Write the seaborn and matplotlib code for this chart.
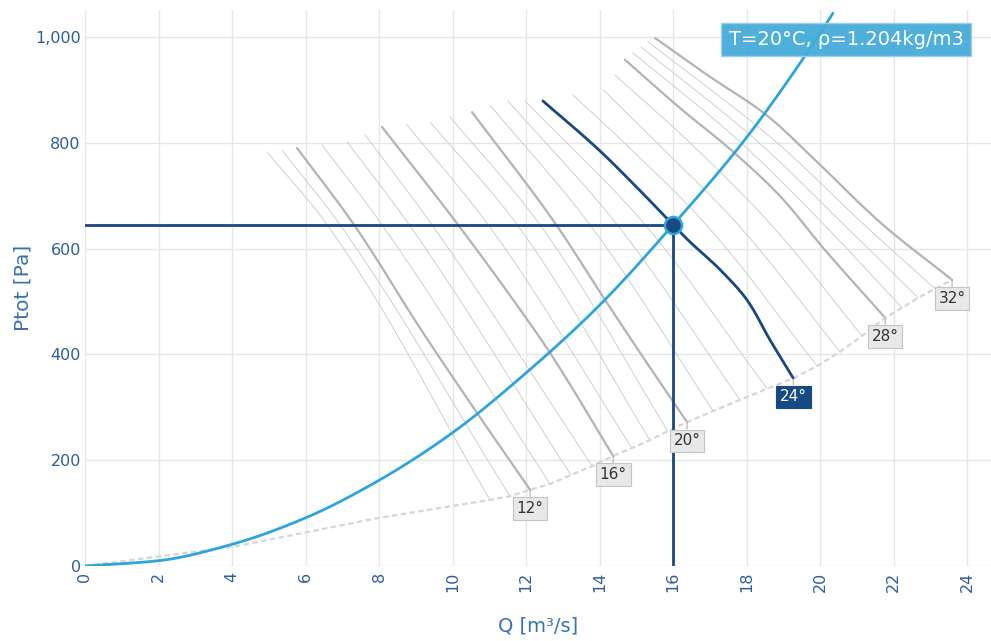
import numpy as np
import pandas as pd
import matplotlib
matplotlib.use("Agg")
import matplotlib.pyplot as plt
from matplotlib.ticker import FuncFormatter
import seaborn as sns

# ---------------------------------------------------------------
# Fan data: airflow Q [m³/s] and total pressure Ptot [Pa]
# ---------------------------------------------------------------
angles = list(range(10, 33))
major_angles = [12, 16, 20, 24, 28, 32]
duty_angle = 24

# upper (stall-side) end of each blade-angle curve
top_q = [4.95, 5.36, 5.77, 6.45, 7.13, 7.62, 8.08, 8.76, 9.39, 9.93, 10.53, 11.02,
         11.51, 11.97, 12.46, 13.28, 14.10, 14.42, 14.69, 14.91, 15.13, 15.32, 15.51]
top_p = [783, 786, 790, 796, 802, 815, 830, 834, 839, 849, 858, 871,
         879, 879, 879, 890, 900, 928, 957, 970, 981, 991, 998]

# lower (free-delivery) end of each blade-angle curve
bottom_q = [11.02, 11.56, 12.11, 12.65, 13.22, 13.80, 14.37, 14.88, 15.37, 15.86, 16.38, 17.09,
            17.82, 18.56, 19.27, 19.92, 20.54, 21.14, 21.77, 22.23, 22.67, 23.13, 23.59]
bottom_p = [125, 132, 144, 155, 172, 189, 208, 223, 238, 255, 272, 293,
            314, 335, 355, 378, 405, 435, 469, 488, 507, 524, 541]

# flow where each curve passes Ptot = 645 Pa
mid_q = [6.59, 6.94, 7.32, 8.08, 8.82, 9.44, 10.15, 10.97, 11.76, 12.38, 12.82, 13.74,
         14.48, 15.24, 16.00, 16.90, 17.77, 18.67, 19.56, 20.11, 20.65, 21.20, 21.71]
mid_p = [645] * len(angles)

# flow where the steeper minor curves pass Ptot = 800 Pa
upper_angles = [25, 26, 27, 29, 30, 31]
upper_q = [14.67, 15.56, 16.46, 17.85, 18.34, 18.83]
upper_p = [800, 800, 800, 800, 800, 800]

# intermediate points of the labelled curves
inner_12_q, inner_12_p = [7.32, 9.15, 10.67], [645, 446, 289]
inner_16_q, inner_16_p = [10.15, 11.65, 12.65], [645, 503, 403]
inner_20_q, inner_20_p = [12.82, 14.15, 15.20], [645, 503, 393]
inner_24_q = [13.99, 15.08, 16.00, 16.41, 17.28, 18.01, 18.64]
inner_24_p = [786, 711, 645, 616, 560, 503, 427]
inner_28_q, inner_28_p = [16.20, 17.60, 18.90, 20.10], [865, 785, 700, 600]
inner_32_q, inner_32_p = [16.98, 18.53, 19.78, 21.71], [926, 853, 773, 645]

# start of the free-delivery boundary below the 10° curve
boundary_start_q = [0, 4, 8]
boundary_start_p = [0, 36, 91]

# system resistance curve
system_q = [0, 2, 4, 6, 8, 10, 12, 14, 16, 18, 20, 20.35]
system_p = [0, 10, 41, 91, 162, 252, 365, 493, 645, 810, 1007, 1045]

# duty point
duty_q = 16.0
duty_p = 645

condition_text = "T=20°C, ρ=1.204kg/m3"

x_ticks = list(range(0, 25, 2))
y_ticks = list(range(0, 1001, 200))

# ---------------------------------------------------------------
# Colours
# ---------------------------------------------------------------
NAVY = "#18487f"
SKY = "#2ea5d8"
TICK_BLUE = "#2d5d9a"
LABEL_BLUE = "#3673b4"
MINOR_GREY = "#c8c8c8"
MAJOR_GREY = "#b3b3b3"


def pchip(x, y, n=80):
    """Shape-preserving cubic through (x, y); x must be increasing."""
    x = np.asarray(x, float)
    y = np.asarray(y, float)
    h = np.diff(x)
    d = np.diff(y) / h
    m = np.zeros_like(y)
    for k in range(1, len(x) - 1):
        if d[k - 1] * d[k] > 0:
            w1 = 2 * h[k] + h[k - 1]
            w2 = h[k] + 2 * h[k - 1]
            m[k] = (w1 + w2) / (w1 / d[k - 1] + w2 / d[k])
    m[0] = d[0]
    m[-1] = d[-1]
    xs = np.linspace(x[0], x[-1], n)
    idx = np.clip(np.searchsorted(x, xs) - 1, 0, len(x) - 2)
    t = (xs - x[idx]) / h[idx]
    h00 = 2 * t ** 3 - 3 * t ** 2 + 1
    h10 = t ** 3 - 2 * t ** 2 + t
    h01 = -2 * t ** 3 + 3 * t ** 2
    h11 = t ** 3 - t ** 2
    ys = (h00 * y[idx] + h10 * h[idx] * m[idx]
          + h01 * y[idx + 1] + h11 * h[idx] * m[idx + 1])
    return xs, ys


def curve_points(angle):
    i = angles.index(angle)
    inner = {
        12: (inner_12_q, inner_12_p), 16: (inner_16_q, inner_16_p),
        20: (inner_20_q, inner_20_p), 24: (inner_24_q, inner_24_p),
        28: (inner_28_q, inner_28_p), 32: (inner_32_q, inner_32_p),
    }
    if angle in inner:
        iq, ip = inner[angle]
    else:
        iq, ip = [mid_q[i]], [mid_p[i]]
        if angle in upper_angles:
            j = upper_angles.index(angle)
            iq, ip = [upper_q[j]] + iq, [upper_p[j]] + ip
    return [top_q[i]] + list(iq) + [bottom_q[i]], [top_p[i]] + list(ip) + [bottom_p[i]]


sns.set_theme(style="whitegrid")
plt.rcParams["font.family"] = ["DejaVu Sans"]

fig = plt.figure(figsize=(9.91, 6.41), dpi=100)
ax = fig.add_axes([85 / 991, 1 - 566 / 641, (991 - 85) / 991, (566 - 10) / 641])
ax.set_facecolor("white")

# blade-angle curves: flow as a smooth function of pressure
for ang in angles:
    q, p = curve_points(ang)
    ps, qs = pchip(p[::-1], q[::-1])
    df = pd.DataFrame({"Q": qs, "P": ps})
    if ang == duty_angle:
        color, lw, z = NAVY, 2.0, 5
    elif ang in major_angles:
        color, lw, z = MAJOR_GREY, 1.6, 3
    else:
        color, lw, z = MINOR_GREY, 0.6, 2
    sns.lineplot(data=df, x="Q", y="P", sort=False, estimator=None,
                 color=color, linewidth=lw, ax=ax, zorder=z)

# free-delivery boundary
bq = boundary_start_q + bottom_q
bp = boundary_start_p + bottom_p
ax.plot(bq, bp, color="#d6d6d6", lw=1.6, linestyle=(0, (2.5, 1.5)), zorder=3)

# duty point cross lines
ax.plot([0, duty_q], [duty_p, duty_p], color=NAVY, lw=2.0, zorder=6)
ax.plot([duty_q, duty_q], [0, duty_p], color=NAVY, lw=2.0, zorder=6)

# system curve
sq, sp = pchip(system_q, system_p)
sns.lineplot(x=sq, y=sp, sort=False, estimator=None, color=SKY, linewidth=2.0,
             ax=ax, zorder=7)

# duty point marker
ax.scatter([duty_q], [duty_p], s=150, color=NAVY, edgecolor=SKY, linewidth=1.8,
           zorder=9)

# blade-angle labels
for ang in major_angles:
    i = angles.index(ang)
    if ang == duty_angle:
        fc, ec, tc = "#164a85", "#164a85", "white"
    else:
        fc, ec, tc = "#e8e8e8", "#c4c4c4", "#333333"
    ax.annotate(f"{ang}°", xy=(bottom_q[i], bottom_p[i]), xytext=(0, -13.5),
                textcoords="offset points", ha="center", va="center",
                fontsize=11, color=tc, zorder=10,
                bbox=dict(boxstyle="square,pad=0.25", fc=fc, ec=ec, lw=0.8),
                arrowprops=dict(arrowstyle="-", color="#9a9a9a", lw=0.6,
                                shrinkA=0, shrinkB=0))

# condition box
ax.text(0.84, 0.947, condition_text, transform=ax.transAxes, ha="center",
        va="center", fontsize=14, color="white", zorder=11,
        bbox=dict(boxstyle="square,pad=0.38", fc="#45acd9", ec="#9ccfe6",
                  lw=1.0, alpha=0.95))

# axes
ax.set_xlim(0, 24.65)
ax.set_ylim(0, 1051)
ax.set_xticks(x_ticks)
ax.set_yticks(y_ticks)
ax.yaxis.set_major_formatter(FuncFormatter(lambda v, _: f"{v:,.0f}"))
ax.grid(True, color="#e6e6e6", linewidth=1.0)
for s in ax.spines.values():
    s.set_visible(False)
ax.tick_params(axis="both", length=0, labelsize=11.5, colors=TICK_BLUE)
ax.tick_params(axis="x", labelrotation=90, pad=4)
ax.tick_params(axis="y", pad=3)

ax.set_xlabel("Q [m³/s]", fontsize=14, color=LABEL_BLUE)
ax.set_ylabel("Ptot [Pa]", fontsize=14.5, color=LABEL_BLUE)
ax.xaxis.set_label_coords(0.5, -0.09)
ax.yaxis.set_label_coords(-0.058, 0.5)

fig.savefig("out.png", dpi=100, facecolor="white")
